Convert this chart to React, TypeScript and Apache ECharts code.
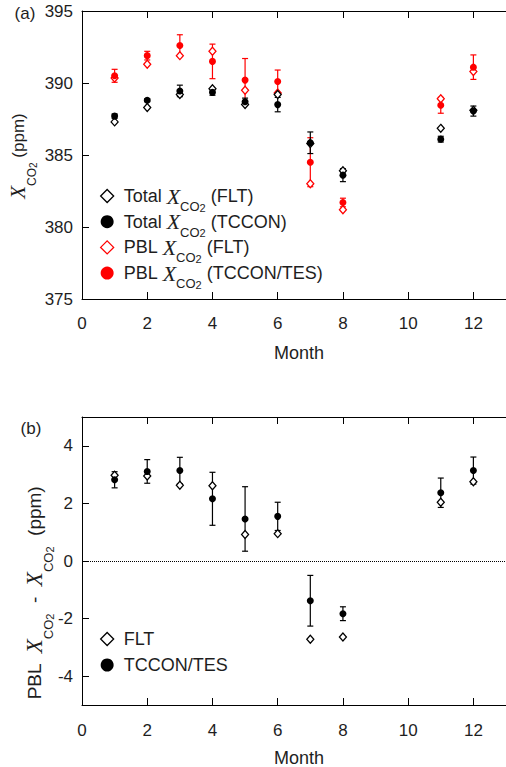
import React, { useEffect, useRef } from 'react';
import * as echarts from 'echarts';

// ---------- data ----------
const months = [1, 2, 3, 4, 5, 6, 7, 8, 11, 12];

// panel (a)
const totalFLT = [387.3, 388.3, 389.2, 389.6, 388.5, 389.2, 385.8, 383.9, 386.85, 388.1];
const totalTCCON = [387.7, 388.8, 389.45, 389.35, 388.7, 388.5, 385.85, 383.6, 386.1, 388.05];
const totalTCCONErr = [0.15, 0.1, 0.4, 0.2, 0.25, 0.5, 0.75, 0.45, 0.2, 0.35];
const pblFLT = [390.35, 391.3, 391.9, 392.2, 389.5, 389.3, 383.0, 381.2, 388.9, 390.8];
const pblTCCON = [390.5, 391.9, 392.6, 391.5, 390.2, 390.1, 384.5, 381.7, 388.45, 391.1];
const pblTCCONErr = [0.45, 0.3, 0.75, 1.2, 1.5, 0.8, 1.7, 0.3, 0.55, 0.85];

// panel (b)
const diffFLT = [2.98, 2.95, 2.63, 2.61, 0.92, 0.95, -2.72, -2.64, 2.04, 2.75];
const diffTCCON = [2.82, 3.11, 3.14, 2.16, 1.46, 1.55, -1.38, -1.83, 2.37, 3.14];
const diffTCCONErr = [0.28, 0.41, 0.46, 0.92, 1.12, 0.49, 0.88, 0.24, 0.51, 0.47];

const xTicks = [0, 2, 4, 6, 8, 10, 12];
const yTicksA = [375, 380, 385, 390, 395];
const yTicksB = [-4, -2, 0, 2, 4];

// ---------- styling ----------
const SANS = 'Liberation Sans, Arial, Helvetica, sans-serif';
const SERIF = 'Liberation Serif, Times New Roman, serif';
const RED = '#ff0000';
const BLACK = '#000000';
const TEXT = '#1e1e1e';

const makeRich = (L: number, off1: number, off2: number, useFill: boolean, xs = 22, cs = 13, ts = 11) => {
  const c = useFill ? { fill: TEXT } : { color: TEXT };
  return {
    x: { fontFamily: SERIF, fontStyle: 'italic', fontSize: xs, lineHeight: L, ...c },
    co: { fontFamily: SANS, fontSize: cs, lineHeight: L - 2 * off1, verticalAlign: 'bottom', ...c },
    two: { fontFamily: SANS, fontSize: ts, lineHeight: Math.max(1, L - 2 * off2), verticalAlign: 'bottom', ...c },
  };
};

const XCO2 = '{x|X}{co|CO}{two|2}';

const pairs = (ys: number[]) => months.map((m, i) => [m, ys[i]]);
const errPairs = (ys: number[], es: number[]) => months.map((m, i) => [m, ys[i] - es[i], ys[i] + es[i]]);

const errRender = (color: string) => (params: any, api: any) => {
  const x = api.value(0);
  const p1 = api.coord([x, api.value(1)]);
  const p2 = api.coord([x, api.value(2)]);
  const w = 3;
  const style = { stroke: color, lineWidth: 1.2 };
  return {
    type: 'group',
    children: [
      { type: 'line', shape: { x1: p1[0], y1: p1[1], x2: p2[0], y2: p2[1] }, style },
      { type: 'line', shape: { x1: p1[0] - w, y1: p1[1], x2: p1[0] + w, y2: p1[1] }, style },
      { type: 'line', shape: { x1: p2[0] - w, y1: p2[1], x2: p2[0] + w, y2: p2[1] }, style },
    ],
  };
};

const xAxisDef = (gridIndex: number, position: string, showLabel: boolean, margin: number) => ({
  type: 'value',
  gridIndex,
  position,
  min: 0,
  max: 13,
  axisLine: { show: true, onZero: false, lineStyle: { color: BLACK, width: 1 } },
  axisTick: { show: true, inside: true, length: 7, customValues: xTicks, lineStyle: { color: BLACK, width: 1 } },
  axisLabel: {
    show: showLabel,
    customValues: xTicks,
    margin,
    fontSize: 17,
    fontFamily: SANS,
    color: TEXT,
  },
  splitLine: { show: false },
});

const yAxisDef = (gridIndex: number, min: number, max: number, ticks: number[]) => ({
  type: 'value',
  gridIndex,
  min,
  max,
  axisLine: { show: true, onZero: false, lineStyle: { color: BLACK, width: 1 } },
  axisTick: { show: true, inside: true, length: 7, customValues: ticks, lineStyle: { color: BLACK, width: 1 } },
  axisLabel: { customValues: ticks, margin: 9, fontSize: 17, fontFamily: SANS, color: TEXT },
  splitLine: { show: false },
});

const legendLabels: Record<string, string> = {
  'Total (FLT)': `Total ${XCO2} (FLT)`,
  'Total (TCCON)': `Total ${XCO2} (TCCON)`,
  'PBL (FLT)': `PBL ${XCO2} (FLT)`,
  'PBL (TCCON/TES)': `PBL ${XCO2} (TCCON/TES)`,
};

export default function App() {
  const ref = useRef<HTMLDivElement>(null);
  useEffect(() => {
    if (!ref.current) return;
    const chart = echarts.init(ref.current, null, { renderer: 'svg' });
    const emptyDia = (c: string) => ({ color: '#ffffff', borderColor: c, borderWidth: 1.3, opacity: 1 });
    const filled = (c: string) => ({ color: c, opacity: 1, borderWidth: 0 });
    const option: any = {
      animation: false,
      backgroundColor: '#ffffff',
      grid: [
        { left: 82, top: 11, width: 433, height: 288 },
        { left: 82, top: 417, width: 433, height: 288 },
      ],
      xAxis: [
        xAxisDef(0, 'bottom', true, 16),
        xAxisDef(0, 'top', false, 8),
        xAxisDef(1, 'bottom', true, 17),
        xAxisDef(1, 'top', false, 8),
      ],
      yAxis: [yAxisDef(0, 375, 395, yTicksA), yAxisDef(1, -5, 5, yTicksB)],
      legend: [
        {
          orient: 'vertical',
          left: 100,
          top: 179,
          padding: 0,
          itemWidth: 13,
          itemHeight: 13,
          itemGap: -8.3,
          selectedMode: false,
          textStyle: {
            fontSize: 18,
            fontFamily: SANS,
            color: TEXT,
            lineHeight: 34,
            padding: [0, 0, 0, 5],
            rich: makeRich(34, 10, 14, false),
          },
          formatter: (name: string) => legendLabels[name] || name,
          data: [
            { name: 'Total (FLT)', icon: 'diamond', itemStyle: emptyDia(BLACK) },
            { name: 'Total (TCCON)', icon: 'circle', itemStyle: filled(BLACK) },
            { name: 'PBL (FLT)', icon: 'diamond', itemStyle: emptyDia(RED) },
            { name: 'PBL (TCCON/TES)', icon: 'circle', itemStyle: filled(RED) },
          ],
        },
        {
          orient: 'vertical',
          left: 100,
          top: 629,
          padding: 0,
          itemWidth: 13,
          itemHeight: 13,
          itemGap: 6,
          selectedMode: false,
          textStyle: { fontSize: 18, fontFamily: SANS, color: TEXT, lineHeight: 20, padding: [0, 0, 0, 5] },
          data: [
            { name: 'FLT', icon: 'diamond', itemStyle: emptyDia(BLACK) },
            { name: 'TCCON/TES', icon: 'circle', itemStyle: filled(BLACK) },
          ],
        },
      ],
      graphic: [
        { type: 'text', x: 25, y: 13, style: { text: '(a)', fontSize: 17, fontFamily: SANS, fill: TEXT, align: 'center', verticalAlign: 'middle' } },
        { type: 'text', x: 31, y: 428, style: { text: '(b)', fontSize: 17, fontFamily: SANS, fill: TEXT, align: 'center', verticalAlign: 'middle' } },
        { type: 'text', x: 299, y: 353, style: { text: 'Month', fontSize: 18, fontFamily: SANS, fill: TEXT, align: 'center', verticalAlign: 'middle' } },
        { type: 'text', x: 299, y: 758, style: { text: 'Month', fontSize: 18, fontFamily: SANS, fill: TEXT, align: 'center', verticalAlign: 'middle' } },
        {
          type: 'text', x: 18, y: 156, rotation: Math.PI / 2,
          style: {
            text: `${XCO2} (ppm)`, fontSize: 17, fontFamily: SANS, fill: TEXT, lineHeight: 40,
            align: 'center', verticalAlign: 'middle', rich: makeRich(40, 13, 17, true, 21, 12, 10),
          },
        },
        {
          type: 'text', x: 34, y: 593, rotation: Math.PI / 2,
          style: {
            text: `PBL  ${XCO2}  -  ${XCO2}  (ppm)`, fontSize: 19, fontFamily: SANS, fill: TEXT, lineHeight: 42,
            align: 'center', verticalAlign: 'middle', rich: makeRich(42, 14, 18, true, 23, 13, 11),
          },
        },
      ],
      series: [
        // panel (a)
        { type: 'custom', xAxisIndex: 0, yAxisIndex: 0, renderItem: errRender(RED), data: errPairs(pblTCCON, pblTCCONErr), z: 2, silent: true },
        { name: 'PBL (FLT)', type: 'scatter', xAxisIndex: 0, yAxisIndex: 0, symbol: 'diamond', symbolSize: [7, 8], itemStyle: emptyDia(RED), data: pairs(pblFLT), z: 3 },
        { name: 'PBL (TCCON/TES)', type: 'scatter', xAxisIndex: 0, yAxisIndex: 0, symbol: 'circle', symbolSize: 7, itemStyle: filled(RED), data: pairs(pblTCCON), z: 4 },
        { type: 'custom', xAxisIndex: 0, yAxisIndex: 0, renderItem: errRender(BLACK), data: errPairs(totalTCCON, totalTCCONErr), z: 5, silent: true },
        { name: 'Total (FLT)', type: 'scatter', xAxisIndex: 0, yAxisIndex: 0, symbol: 'diamond', symbolSize: [7, 8], itemStyle: emptyDia(BLACK), data: pairs(totalFLT), z: 6 },
        { name: 'Total (TCCON)', type: 'scatter', xAxisIndex: 0, yAxisIndex: 0, symbol: 'circle', symbolSize: 7, itemStyle: filled(BLACK), data: pairs(totalTCCON), z: 7 },
        // panel (b)
        {
          type: 'custom', xAxisIndex: 2, yAxisIndex: 1, renderItem: errRender(BLACK), data: errPairs(diffTCCON, diffTCCONErr), z: 2, silent: true,
          markLine: {
            silent: true, symbol: 'none', label: { show: false },
            lineStyle: { type: 'dotted', color: BLACK, width: 1 },
            data: [{ yAxis: 0 }],
          },
        },
        { name: 'FLT', type: 'scatter', xAxisIndex: 2, yAxisIndex: 1, symbol: 'diamond', symbolSize: [7, 8], itemStyle: emptyDia(BLACK), data: pairs(diffFLT), z: 3 },
        { name: 'TCCON/TES', type: 'scatter', xAxisIndex: 2, yAxisIndex: 1, symbol: 'circle', symbolSize: 7, itemStyle: filled(BLACK), data: pairs(diffTCCON), z: 4 },
      ],
    };
    chart.setOption(option);
    return () => chart.dispose();
  }, []);
  return <div ref={ref} style={{ position: 'fixed', left: 0, top: 0, width: 506, height: 767 }} />;
}
